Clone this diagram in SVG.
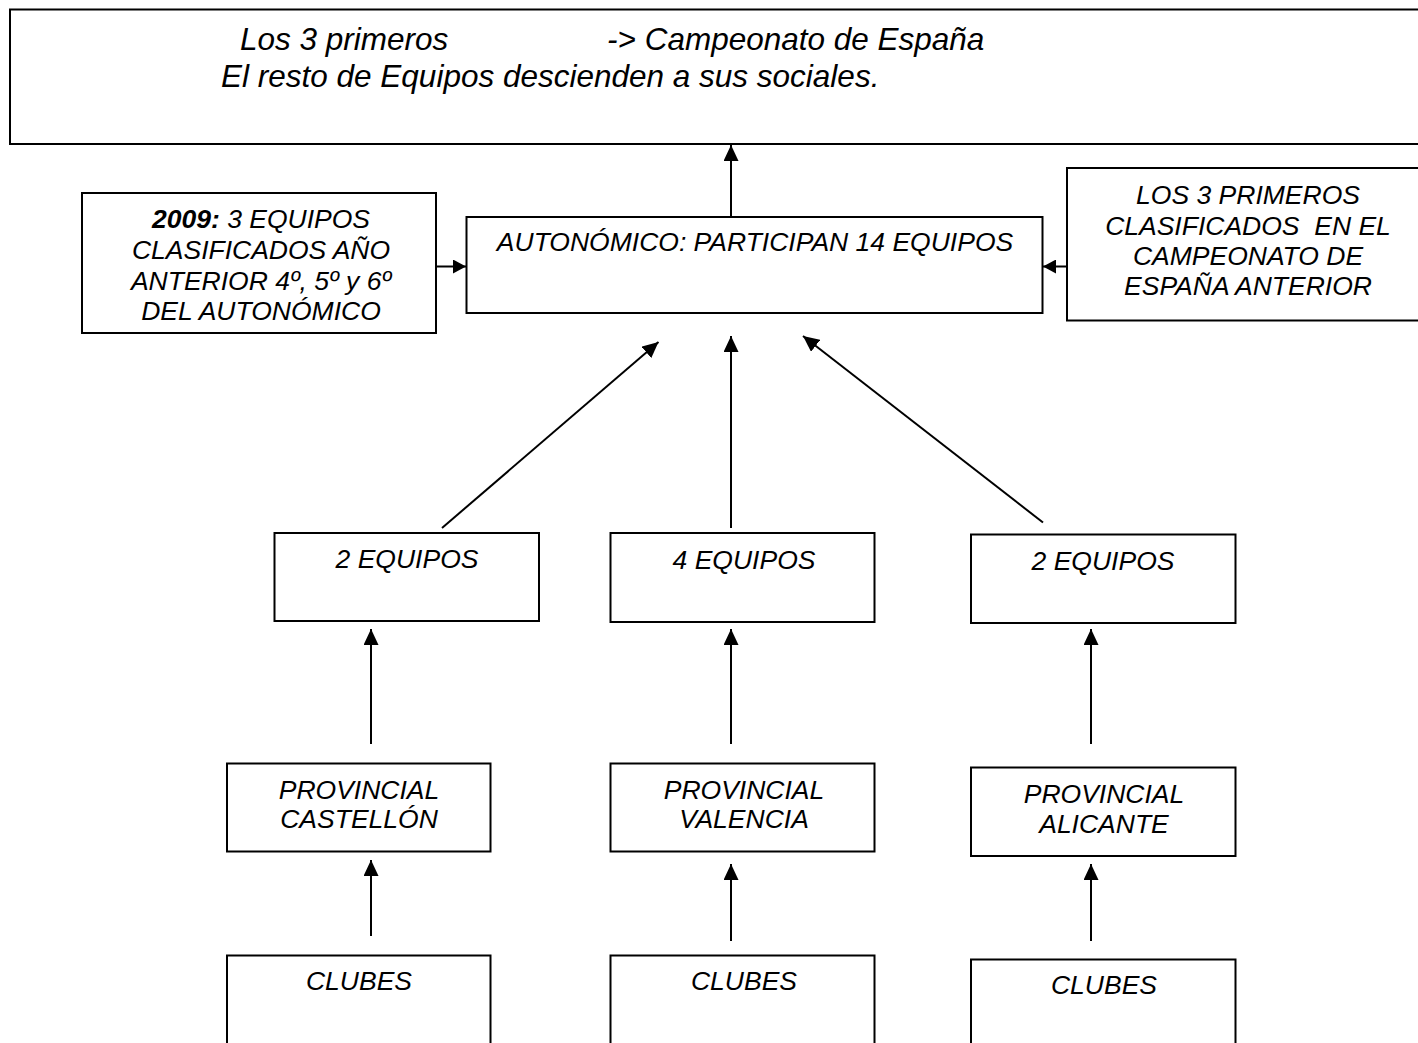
<svg xmlns="http://www.w3.org/2000/svg" width="1418" height="1043" viewBox="0 0 1418 1043">
<style>
.box{fill:#fff;stroke:#000;stroke-width:2}
.t{font-family:"Liberation Sans",Arial,sans-serif;font-style:italic;font-size:26.5px;fill:#000;text-anchor:middle}
.big{font-family:"Liberation Sans",Arial,sans-serif;font-style:italic;font-size:31.5px;fill:#000}
.c{stroke:#000;stroke-width:2;fill:none;marker-end:url(#ah)}
.cs{stroke:#000;stroke-width:2;fill:none;marker-end:url(#ahs)}
</style>
<defs>
<marker id="ah" markerUnits="userSpaceOnUse" markerWidth="17" markerHeight="15" refX="16" refY="7.5" orient="auto" viewBox="0 0 17 15">
<path d="M0,0 L16,7.5 L0,15 z" fill="#000"/>
</marker>
<marker id="ahs" markerUnits="userSpaceOnUse" markerWidth="14" markerHeight="14" refX="13" refY="7" orient="auto" viewBox="0 0 14 14">
<path d="M0,0 L13,7 L0,14 z" fill="#000"/>
</marker>
</defs>
<rect width="1418" height="1043" fill="#fff"/>

<g id="connectors">
<line class="c" x1="731" y1="216" x2="731" y2="145"/>
<line class="cs" x1="436" y1="266.5" x2="466" y2="266.5"/>
<line class="cs" x1="1067" y1="266.5" x2="1043" y2="266.5"/>
<line class="c" x1="442" y1="528" x2="658.5" y2="342"/>
<line class="c" x1="731" y1="528" x2="731" y2="336"/>
<line class="c" x1="1043" y1="522.5" x2="803" y2="336"/>
<line class="c" x1="371" y1="744" x2="371" y2="629"/>
<line class="c" x1="731" y1="744" x2="731" y2="629"/>
<line class="c" x1="1091" y1="744" x2="1091" y2="629"/>
<line class="c" x1="371" y1="936" x2="371" y2="860"/>
<line class="c" x1="731" y1="941" x2="731" y2="864"/>
<line class="c" x1="1091" y1="941" x2="1091" y2="864"/>
</g>

<g id="campeonato">
<rect class="box" x="10" y="9.5" width="1420" height="134.5"/>
<text class="big" x="240" y="50">Los 3 primeros</text>
<text class="big" x="607" y="50">-&gt; Campeonato de España</text>
<text class="big" x="221" y="86.5">El resto de Equipos descienden a sus sociales.</text>
</g>

<g id="clasificados2009">
<rect class="box" x="82" y="193" width="354" height="140"/>
<text class="t" x="261" y="228.3"><tspan font-weight="bold">2009:</tspan> 3 EQUIPOS</text>
<text class="t" x="261" y="259.3">CLASIFICADOS AÑO</text>
<text class="t" x="261" y="289.7">ANTERIOR 4º, 5º y 6º</text>
<text class="t" x="261" y="320">DEL AUTONÓMICO</text>
</g>

<g id="autonomico">
<rect class="box" x="466.5" y="217" width="576" height="96"/>
<text class="t" x="755" y="250.7">AUTONÓMICO: PARTICIPAN 14 EQUIPOS</text>
</g>

<g id="primeros-espana">
<rect class="box" x="1067" y="168" width="380" height="152.5"/>
<text class="t" x="1248" y="204">LOS 3 PRIMEROS</text>
<text class="t" x="1248" y="234.5" xml:space="preserve">CLASIFICADOS  EN EL</text>
<text class="t" x="1248" y="264.5">CAMPEONATO DE</text>
<text class="t" x="1248" y="295">ESPAÑA ANTERIOR</text>
</g>

<g id="equipos-castellon">
<rect class="box" x="274.5" y="533" width="264.5" height="88"/>
<text class="t" x="407" y="567.5">2 EQUIPOS</text>
</g>
<g id="equipos-valencia">
<rect class="box" x="610.5" y="533" width="264" height="89"/>
<text class="t" x="744" y="569">4 EQUIPOS</text>
</g>
<g id="equipos-alicante">
<rect class="box" x="971" y="534.5" width="264.5" height="88.5"/>
<text class="t" x="1103" y="569.5">2 EQUIPOS</text>
</g>

<g id="provincial-castellon">
<rect class="box" x="227" y="763.5" width="263.5" height="88"/>
<text class="t" x="359" y="798.5">PROVINCIAL</text>
<text class="t" x="359" y="828">CASTELLÓN</text>
</g>
<g id="provincial-valencia">
<rect class="box" x="610.5" y="763.5" width="264" height="88"/>
<text class="t" x="744" y="798.5">PROVINCIAL</text>
<text class="t" x="744" y="828">VALENCIA</text>
</g>
<g id="provincial-alicante">
<rect class="box" x="971" y="767.5" width="264.5" height="88.5"/>
<text class="t" x="1104" y="802.5">PROVINCIAL</text>
<text class="t" x="1104" y="833">ALICANTE</text>
</g>

<g id="clubes-castellon">
<rect class="box" x="227" y="955.5" width="263.5" height="100"/>
<text class="t" x="359" y="990">CLUBES</text>
</g>
<g id="clubes-valencia">
<rect class="box" x="610.5" y="955.5" width="264" height="100"/>
<text class="t" x="744" y="990">CLUBES</text>
</g>
<g id="clubes-alicante">
<rect class="box" x="971" y="959.5" width="264.5" height="100"/>
<text class="t" x="1104" y="993.5">CLUBES</text>
</g>
</svg>
